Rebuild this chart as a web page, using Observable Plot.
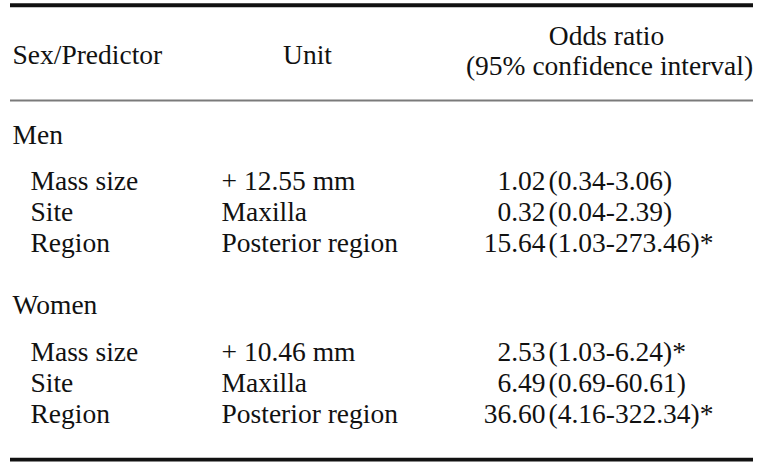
<!DOCTYPE html>
<html>
<head>
<meta charset="utf-8">
<script src="https://cdn.jsdelivr.net/npm/d3@7"></script>
<script src="https://cdn.jsdelivr.net/npm/@observablehq/plot@0.6"></script>
<style>
  html, body { margin: 0; padding: 0; background: #fff; }
  #chart svg { display: block; }
</style>
</head>
<body>
<div id="chart"></div>
<script>
// ---- data ----
const headers = ["Sex/Predictor", "Unit", "Odds ratio", "(95% confidence interval)"];
const groups = ["Men", "Women"];
const predictors = ["Mass size", "Site", "Region"];
const unitsMen = ["+ 12.55 mm", "Maxilla", "Posterior region"];
const unitsWomen = ["+ 10.46 mm", "Maxilla", "Posterior region"];
const oddsMen = [1.02, 0.32, 15.64];
const oddsWomen = [2.53, 6.49, 36.60];
const ciLowMen = [0.34, 0.04, 1.03];
const ciHighMen = [3.06, 2.39, 273.46];
const ciLowWomen = [1.03, 0.69, 4.16];
const ciHighWomen = [6.24, 60.61, 322.34];
const sigMen = [false, false, true];
const sigWomen = [true, false, true];

// ---- layout (table geometry, in scale units) ----
const W = 760, H = 462;
const L = {
  groupX: 12, itemX: 30, unitX: 221, unitHeadX: 307,
  oddsEndX: 545, ciStartX: 548, oddsHeadX: 606, oddsHead2X: 609,
  left: 10, right: 753,
  headLine1: -6.35, headLine2: -4.45, headMid: -5.15,
  topRule: -8.92, midRule: -2.78, bottomRule: 20.4,
  yMin: -9.226, yMax: 20.58
};

const fmt = d3.format(".2f");
const series = [
  {units: unitsMen, odds: oddsMen, lo: ciLowMen, hi: ciHighMen, sig: sigMen},
  {units: unitsWomen, odds: oddsWomen, lo: ciLowWomen, hi: ciHighWomen, sig: sigWomen}
];

const groupRows = [];
const itemRows = [];
let slot = 0;
groups.forEach((g, gi) => {
  groupRows.push({label: g, slot});
  slot += 3;
  predictors.forEach((p, pi) => {
    const s = series[gi];
    itemRows.push({
      label: p,
      unit: s.units[pi],
      odds: fmt(s.odds[pi]),
      ci: `(${fmt(s.lo[pi])}-${fmt(s.hi[pi])})` + (s.sig[pi] ? "*" : ""),
      slot
    });
    slot += 2;
  });
  slot += 2;
});

const font = "'Liberation Serif', 'Times New Roman', serif";
const common = {fontSize: 27.5, fontFamily: font, fill: "#111", lineAnchor: "bottom"};

const chart = Plot.plot({
  width: W,
  height: H,
  marginTop: 0, marginBottom: 0, marginLeft: 0, marginRight: 0,
  x: {domain: [0, W], axis: null},
  y: {domain: [L.yMin, L.yMax], reverse: true, axis: null},
  style: {background: "#fff", fontFamily: font},
  marks: [
    Plot.ruleY([L.topRule], {x1: L.left, x2: L.right, stroke: "#111", strokeWidth: 3.8}),
    Plot.ruleY([L.midRule], {x1: L.left, x2: L.right, stroke: "#7a7a7a", strokeWidth: 2}),
    Plot.ruleY([L.bottomRule], {x1: L.left, x2: L.right, stroke: "#111", strokeWidth: 3.8}),
    // headers
    Plot.text([headers[0]], {...common, x: () => L.groupX, y: () => L.headMid, text: d => d, textAnchor: "start"}),
    Plot.text([headers[1]], {...common, x: () => L.unitHeadX, y: () => L.headMid, text: d => d, textAnchor: "middle"}),
    Plot.text([headers[2]], {...common, x: () => L.oddsHeadX, y: () => L.headLine1, text: d => d, textAnchor: "middle"}),
    Plot.text([headers[3]], {...common, x: () => L.oddsHead2X, y: () => L.headLine2, text: d => d, textAnchor: "middle"}),
    // group rows
    Plot.text(groupRows, {...common, x: () => L.groupX, y: "slot", text: "label", textAnchor: "start"}),
    // item rows
    Plot.text(itemRows, {...common, x: () => L.itemX, y: "slot", text: "label", textAnchor: "start"}),
    Plot.text(itemRows, {...common, x: () => L.unitX, y: "slot", text: "unit", textAnchor: "start"}),
    Plot.text(itemRows, {...common, x: () => L.oddsEndX, y: "slot", text: "odds", textAnchor: "end"}),
    Plot.text(itemRows, {...common, x: () => L.ciStartX, y: "slot", text: "ci", textAnchor: "start"})
  ]
});
document.getElementById("chart").appendChild(chart);
</script>
</body>
</html>
